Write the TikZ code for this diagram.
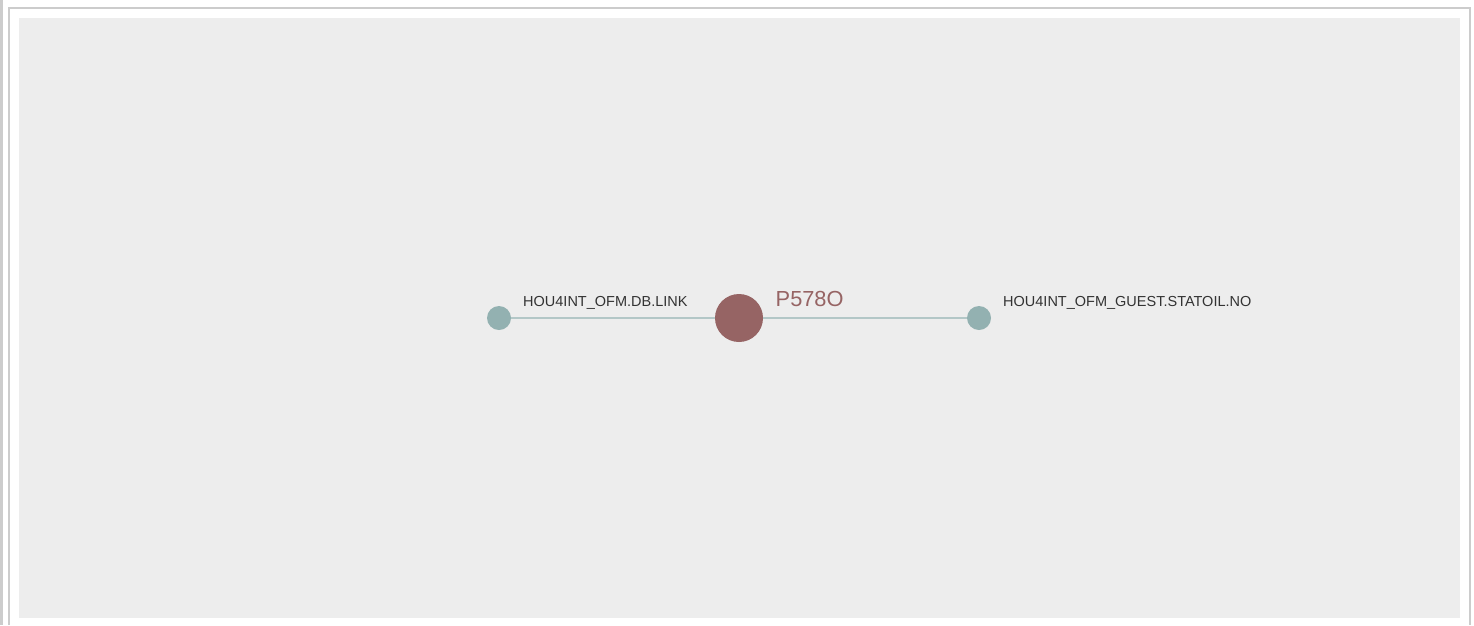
\documentclass[tikz,border=0pt]{standalone}
\usepackage{fontspec}
\setmainfont{Liberation Sans}
\definecolor{framegray}{HTML}{CCCCCC}
\definecolor{panegray}{HTML}{EDEDED}
\definecolor{hostcol}{HTML}{93B1B1}
\definecolor{linkcol}{HTML}{B3C7C7}
\definecolor{dbcol}{HTML}{966464}
\definecolor{txtcol}{HTML}{333333}
\begin{document}
\begin{tikzpicture}[x=1pt,y=-1pt,
            host/.style={circle,fill=hostcol,inner sep=0pt,minimum size=24pt},
            dbnode/.style={circle,fill=dbcol,inner sep=0pt,minimum size=48pt},
            hostlabel/.style={anchor=base west,inner sep=0pt,text=txtcol,font=\fontsize{14.5}{16}\selectfont},
            dblabel/.style={anchor=base west,inner sep=0pt,text=dbcol,font=\fontsize{21.8}{24}\selectfont},
            link/.style={draw=linkcol,line width=2pt}]
            \useasboundingbox (0,0) rectangle (1474,625);
            \def\cy{318}
            % page frame
            \draw[framegray,line width=2.5pt] (1.5,0)--(1.5,625);
            \draw[framegray,line width=2pt] (9,625)--(9,8)--(1469.5,8)--(1469.5,625);
            \fill[panegray] (19,18) rectangle (1460,618);
            % graph
            \node[host] (left) at (499,\cy) {};
            \node[dbnode] (db) at (739,\cy) {};
            \node[host] (right) at (979,\cy) {};
            \path[link] (left)--(db);
            \path[link] (db)--(right);
            \node[hostlabel] (leftname) at (523,306.5) {HOU4INT\_OFM.DB.LINK};
            \node[dblabel] (dbname) at (775.5,306) {P578O};
            \node[hostlabel] (rightname) at (1003,306.5) {HOU4INT\_OFM\_GUEST.STATOIL.NO};
            \end{tikzpicture}
\end{document}
